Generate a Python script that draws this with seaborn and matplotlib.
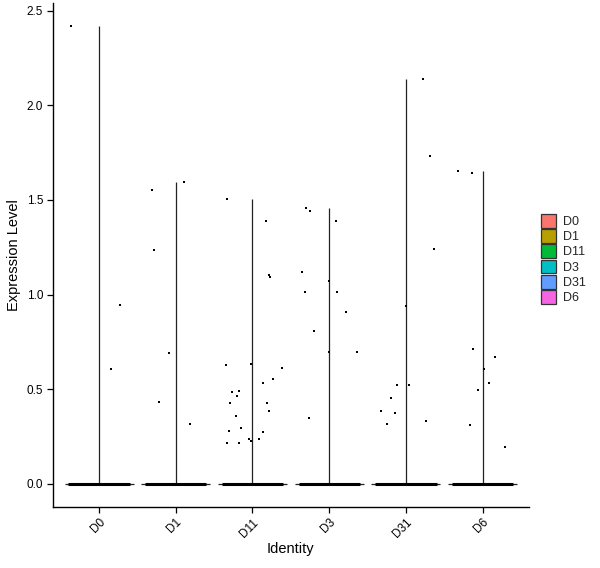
import matplotlib
matplotlib.use("Agg")
import matplotlib.pyplot as plt
import seaborn as sns
import pandas as pd
from matplotlib.patches import Patch

sns.set_style("white")
plt.rcParams['font.family'] = ['Liberation Sans', 'DejaVu Sans']

groups = ["D0", "D1", "D11", "D3", "D31", "D6"]
colors = ["#F8766D", "#B79F00", "#00BA38", "#00BFC4", "#619CFF", "#F564E3"]

d0_vals = [2.418, 0.943, 0.608]
d0_offs = [-0.366, 0.274, 0.157]
d1_vals = [1.593, 1.550, 1.233, 0.693, 0.434, 0.317]
d1_offs = [0.109, -0.304, -0.282, -0.082, -0.213, 0.192]
d11_vals = [1.503, 1.386, 1.101, 1.090, 0.626, 0.631, 0.614, 0.556, 0.531, 0.492,
            0.483, 0.462, 0.425, 0.425, 0.383, 0.360, 0.293, 0.277, 0.272, 0.235,
            0.235, 0.224, 0.213, 0.213]
d11_offs = [-0.330, 0.179, 0.214, 0.231, -0.347, -0.021, 0.384, 0.266, 0.136, -0.174,
            -0.269, -0.204, -0.295, 0.188, 0.214, -0.217, -0.151, -0.308, 0.136, -0.047,
            0.083, -0.021, -0.334, -0.178]
d3_vals = [1.457, 1.441, 1.388, 1.118, 1.070, 1.012, 1.012, 0.906, 0.806, 0.695, 0.695, 0.348]
d3_offs = [-0.308, -0.256, 0.083, -0.360, -0.008, -0.321, 0.096, 0.214, -0.204, -0.008, 0.357, -0.269]
d31_vals = [2.138, 1.730, 1.243, 0.938, 0.520, 0.520, 0.451, 0.383, 0.372, 0.330, 0.314]
d31_offs = [0.218, 0.310, 0.362, 0.005, -0.121, 0.044, -0.191, -0.321, -0.147, 0.266, -0.243]
d6_vals = [1.652, 1.641, 0.711, 0.668, 0.605, 0.531, 0.494, 0.309, 0.197]
d6_offs = [-0.317, -0.134, -0.125, 0.162, 0.018, 0.084, -0.060, -0.161, 0.292]

all_vals = [d0_vals, d1_vals, d11_vals, d3_vals, d31_vals, d6_vals]
all_offs = [d0_offs, d1_offs, d11_offs, d3_offs, d31_offs, d6_offs]

rows = []
for i, (g, vs, os_) in enumerate(zip(groups, all_vals, all_offs)):
    for v, o in zip(vs, os_):
        rows.append({"group": g, "x": i + o, "value": v})
df = pd.DataFrame(rows)

fig = plt.figure(figsize=(6.0, 5.68), dpi=100)
ax = fig.add_axes([53 / 600, 1 - 506.7 / 568, (528.7 - 53) / 600, (506.7 - 3) / 568])

# thin violins: vertical line to max, flat base at zero
for i, vs in enumerate(all_vals):
    ax.vlines(i, 0, max(vs), color="#222222", lw=0.9, zorder=2)
    ax.hlines(0, i - 0.45, i + 0.45, color="#222222", lw=0.9, zorder=2)
    # dense band of zero-valued jittered cells
    ax.hlines(0, i - 0.4, i + 0.4, color="black", lw=2.2, zorder=3)

sns.scatterplot(data=df, x="x", y="value", ax=ax, color="black", marker="s",
                s=4, linewidth=0, legend=False, zorder=4)

ax.set_xlim(-0.6, 5.6)
ax.set_ylim(-0.121, 2.54)
ax.set_xticks(range(len(groups)))
ax.set_xticklabels(groups, rotation=45, ha="right", va="top", rotation_mode="anchor")
ax.set_yticks([0.0, 0.5, 1.0, 1.5, 2.0, 2.5])
ax.set_yticklabels(["0.0", "0.5", "1.0", "1.5", "2.0", "2.5"])
ax.tick_params(axis="both", which="both", direction="out", length=4, width=0.9,
               color="black", labelsize=8.5, labelcolor="black", bottom=True, left=True, pad=3)
ax.set_xlabel("Identity", fontsize=10.5, color="black", labelpad=1)
ax.set_ylabel("Expression Level", fontsize=10.5, color="black", labelpad=4)

for side in ["top", "right"]:
    ax.spines[side].set_visible(False)
for side in ["left", "bottom"]:
    ax.spines[side].set_color("black")
    ax.spines[side].set_linewidth(1.0)

handles = [Patch(facecolor=c, edgecolor="#333333", linewidth=0.9) for c in colors]
fig.legend(handles, groups, loc="center left", bbox_to_anchor=(540 / 600, 1 - 259 / 568),
           frameon=False, fontsize=9, handlelength=1.2, handleheight=1.3,
           labelspacing=0.1, handletextpad=0.55, borderpad=0.1, borderaxespad=0)

fig.savefig("out.png", dpi=100, facecolor="white")
